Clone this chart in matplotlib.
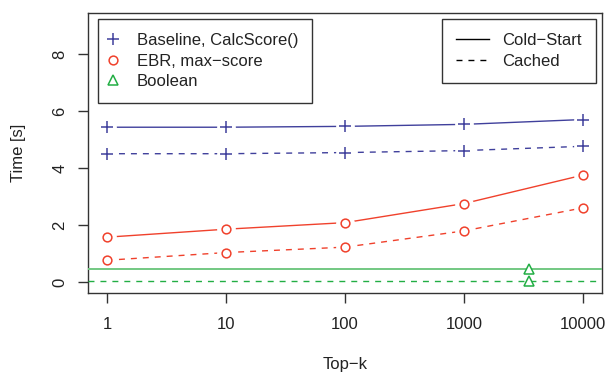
import matplotlib
matplotlib.use("Agg")
import matplotlib.pyplot as plt
from matplotlib.lines import Line2D
import numpy as np

plt.rcParams['font.family'] = ['Liberation Sans', 'DejaVu Sans']

topk = [1, 10, 100, 1000, 10000]
tick_labels = ["1", "10", "100", "1000", "10000"]
baseline_cold = [5.44, 5.44, 5.47, 5.54, 5.71]
baseline_cached = [4.51, 4.51, 4.55, 4.62, 4.77]
ebr_cold = [1.58, 1.86, 2.09, 2.76, 3.76]
ebr_cached = [0.77, 1.04, 1.23, 1.80, 2.61]
boolean_x = [3550, 3550]
boolean_cold = 0.45
boolean_cached = 0.03

BLUE = '#40409C'
RED = '#F0412C'
GREEN = '#22AE44'
GREEN_L = '#72C882'

W, H = 606, 372
fig = plt.figure(figsize=(W/100, H/100), dpi=100)
ax = fig.add_axes([88/W, 1-293/H, (602-88)/W, (293-13)/H])
ax.set_xscale('log')
ax.set_xlim(10**-0.16, 10**4.16)
ax.set_ylim(-0.38, 9.45)

fs = 12
ms_plus = 8.6
ms_circ = 6.3
halo = 13.5

series = [
    (baseline_cold, BLUE, '-', '+'),
    (baseline_cached, BLUE, (0, (4.3, 4.3)), '+'),
    (ebr_cold, RED, '-', 'o'),
    (ebr_cached, RED, (0, (4.3, 4.3)), 'o'),
]
for ys, c, ls, m in series:
    ax.plot(topk, ys, color=c, linestyle=ls, lw=1.0, zorder=2)
    ax.plot(topk, ys, linestyle='none', marker='o', ms=halo,
            mfc='white', mec='none', zorder=2.5)
    if m == '+':
        ax.plot(topk, ys, linestyle='none', marker='+', ms=ms_plus, mew=1.1,
                color=c, zorder=3)
    else:
        ax.plot(topk, ys, linestyle='none', marker='o', ms=ms_circ, mew=1.1,
                mfc='none', mec=c, zorder=3)

ax.axhline(boolean_cold, color=GREEN_L, lw=1.4, zorder=2.6)
ax.axhline(boolean_cached, color=GREEN, lw=1.0, linestyle=(0, (4.3, 4.3)), zorder=2.6)
ax.plot(boolean_x, [boolean_cold, boolean_cached], linestyle='none', marker='^',
        ms=7, mew=1.1, mfc='white', mec=GREEN, zorder=3)

ax.set_xticks(topk)
ax.set_xticklabels(tick_labels)
ax.xaxis.set_minor_locator(matplotlib.ticker.NullLocator())
ax.set_yticks([0, 2, 4, 6, 8])
ax.tick_params(axis='both', length=7, width=1.0, color='#333333', labelsize=fs,
               labelcolor='#222222')
ax.tick_params(axis='x', pad=10)
ax.tick_params(axis='y', pad=8, labelrotation=90)
for lab in ax.get_yticklabels():
    lab.set_va('center')
for s in ax.spines.values():
    s.set_color('#333333')
    s.set_linewidth(1.0)

ax.set_xlabel('Top−k', fontsize=fs, color='#222222')
ax.xaxis.set_label_coords(0.5, -72/280)
ax.xaxis.label.set_va('center')
ax.set_ylabel('Time [s]', fontsize=fs, color='#222222')
ax.yaxis.set_label_coords(-70/514, 0.5)
ax.yaxis.label.set_va('center')

h1 = [Line2D([], [], linestyle='none', marker='+', ms=ms_plus, mew=1.1, color=BLUE),
      Line2D([], [], linestyle='none', marker='o', ms=ms_circ, mew=1.1, mfc='none', mec=RED),
      Line2D([], [], linestyle='none', marker='^', ms=7, mew=1.1, mfc='none', mec=GREEN)]
leg1 = ax.legend(h1, ['Baseline, CalcScore()', 'EBR, max−score', 'Boolean'],
                 loc='upper left', bbox_to_anchor=(97.7/W, 1-19/H),
                 bbox_transform=fig.transFigure, borderaxespad=0,
                 fontsize=fs, frameon=True, fancybox=False, framealpha=1,
                 edgecolor='#333333', borderpad=0.85, handlelength=0.13,
                 handletextpad=1.35, labelspacing=0.33)
leg1.get_frame().set_linewidth(1.0)
for t in leg1.get_texts():
    t.set_color('#222222')
ax.add_artist(leg1)

h2 = [Line2D([], [], color='black', lw=1.0),
      Line2D([], [], color='black', lw=1.0, linestyle=(0, (4.3, 4.3)))]
leg2 = ax.legend(h2, ['Cold−Start', 'Cached'],
                 loc='upper left', bbox_to_anchor=(441.7/W, 1-19/H),
                 bbox_transform=fig.transFigure, borderaxespad=0,
                 fontsize=fs, frameon=True, fancybox=False, framealpha=1,
                 edgecolor='#333333', borderpad=0.85, handlelength=2.0,
                 handletextpad=0.8, labelspacing=0.33)
leg2.get_frame().set_linewidth(1.0)
for t in leg2.get_texts():
    t.set_color('#222222')

fig.savefig('out.png', dpi=100)
